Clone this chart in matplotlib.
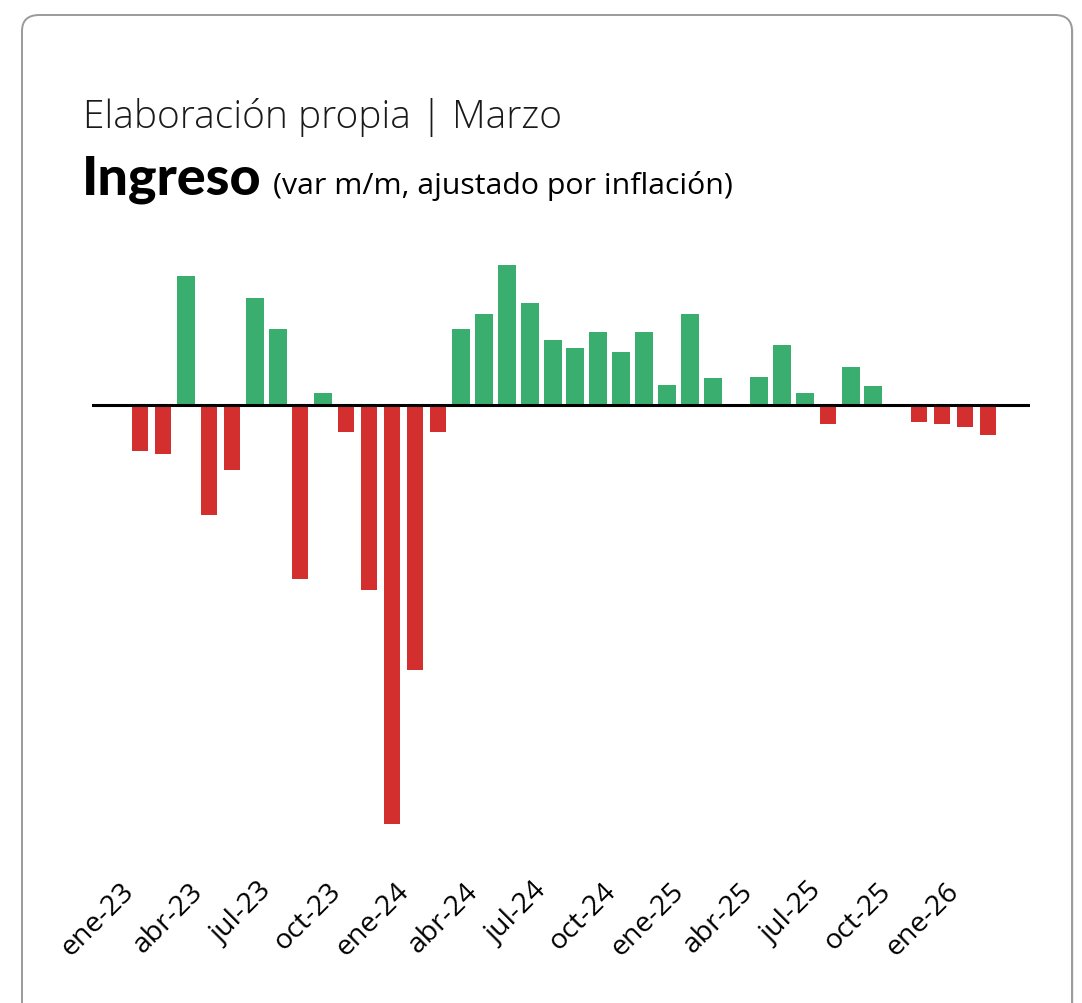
import matplotlib
matplotlib.use("Agg")
import matplotlib.pyplot as plt
from matplotlib.patches import FancyBboxPatch

# meses de ene-23 a feb-26
meses = ["ene-23", "feb-23", "mar-23", "abr-23", "may-23", "jun-23", "jul-23", "ago-23",
         "sep-23", "oct-23", "nov-23", "dic-23", "ene-24", "feb-24", "mar-24", "abr-24",
         "may-24", "jun-24", "jul-24", "ago-24", "sep-24", "oct-24", "nov-24", "dic-24",
         "ene-25", "feb-25", "mar-25", "abr-25", "may-25", "jun-25", "jul-25", "ago-25",
         "sep-25", "oct-25", "nov-25", "dic-25", "ene-26", "feb-26"]

# variación mensual del ingreso real (%)
ingreso = [-1.03, -1.10, 2.86, -2.46, -1.46, 2.37, 1.68, -3.88,
           0.26, -0.61, -4.12, -9.32, -5.90, -0.61, 1.68, 2.01,
           3.10, 2.26, 1.43, 1.26, 1.61, 1.17, 1.61, 0.43,
           2.01, 0.59, 0.00, 0.61, 1.32, 0.26, -0.43, 0.83,
           0.41, 0.00, -0.39, -0.43, -0.50, -0.68]

etiquetas = meses[::3]

VERDE = "#3aae6e"
ROJO = "#d32f2f"

W, H = 1082, 1004
fig = plt.figure(figsize=(W / 100, H / 100), dpi=100)
fig.patch.set_facecolor("white")

# tarjeta con borde redondeado (y una sombra suave)
sombra = FancyBboxPatch((24 / W, -0.05), 1050 / W, (1004 - 18) / H + 0.05,
                        boxstyle="round,pad=0,rounding_size=0.016",
                        transform=fig.transFigure, facecolor="#ededed",
                        edgecolor="none", zorder=0)
fig.patches.append(sombra)
card = FancyBboxPatch((22 / W, -0.05), 1050 / W, (1004 - 16) / H + 0.05,
                      boxstyle="round,pad=0,rounding_size=0.016",
                      transform=fig.transFigure, facecolor="white",
                      edgecolor="#9a9a9a", linewidth=1.4, zorder=1)
fig.patches.append(card)

# textos
fig.text(83 / W, 1 - 128 / H, "Elaboración propia | Marzo", fontsize=28,
         family="Open Sans", fontweight="light", color="#1a1a1a")
fig.text(82 / W, 1 - 194 / H, "Ingreso", fontsize=38.8, family="Lato",
         fontweight="black", color="black")
fig.text(273 / W, 1 - 194 / H, "(var m/m, ajustado por inflación)", fontsize=21.8,
         family="Open Sans", color="black")

# ejes
x0, x1 = 92, 1030
y_top, y_bot = 250, 865
zero_px = 405.5
px_unit = 45.0
ax = fig.add_axes([x0 / W, 1 - y_bot / H, (x1 - x0) / W, (y_bot - y_top) / H])
ax.set_facecolor("none")
ax.set_zorder(2)

pos = list(range(len(meses)))
for i, v in zip(pos, ingreso):
    if v > 0:
        ax.bar(i, v, width=0.785, color=VERDE, zorder=2)
    elif v < 0:
        ax.bar(i, v, width=0.70, color=ROJO, zorder=2)

ax.axhline(0, color="black", linewidth=2.2, zorder=3)

ax.set_xlim(-2.094, 38.83)
ax.set_ylim(-(y_bot - zero_px) / px_unit, (zero_px - y_top) / px_unit)

ax.set_xticks(pos[::3])
ax.set_xticklabels(etiquetas, rotation=45, ha="right", va="top",
                   fontsize=20.5, family="Open Sans")
ax.tick_params(axis="x", length=0, pad=9)
ax.set_yticks([])
for s in ax.spines.values():
    s.set_visible(False)

fig.savefig("out.png", dpi=100, facecolor="white")
